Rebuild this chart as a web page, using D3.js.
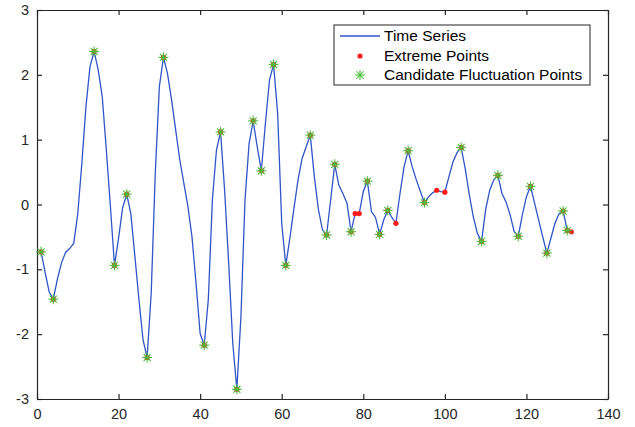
<!DOCTYPE html>
<html>
<head>
<meta charset="utf-8">
<script src="https://cdn.jsdelivr.net/npm/d3@7"></script>
<style>
  html, body { margin: 0; padding: 0; background: #fff; }
  svg { display: block; }
  text { font-family: "Liberation Sans", Arial, sans-serif; }
</style>
</head>
<body>
<div id="chart"></div>
<script>
// ---- data ----
const seriesValues = [
  -0.73, -1.05, -1.35, -1.46, -1.15, -0.90, -0.74, -0.68, -0.60, -0.14,
   0.64,  1.51,  2.13,  2.36,  2.08,  1.66,  0.84, -0.03, -0.94, -0.52,
  -0.05,  0.16, -0.14, -0.80, -1.47, -2.09, -2.36, -1.37,  0.48,  1.82,
   2.27,  2.02,  1.61,  1.15,  0.69,  0.33, -0.03, -0.50, -1.22, -1.99,
  -2.17, -1.47,  0.07,  0.84,  1.12,  0.22, -0.91, -2.14, -2.85, -1.73,
   0.07,  0.94,  1.29,  0.89,  0.52,  1.25,  1.92,  2.16,  1.41, -0.29,
  -0.94, -0.52, -0.06,  0.38,  0.71,  0.89,  1.07,  0.43, -0.08, -0.39,
  -0.47,  0.07,  0.62,  0.30,  0.17,  0.02, -0.42, -0.14, -0.14,  0.20,
   0.36, -0.11, -0.20, -0.46, -0.24, -0.09, -0.20, -0.29,  0.17,  0.58,
   0.83,  0.58,  0.38,  0.20,  0.03,  0.12,  0.18,  0.22,  0.20,  0.19,
   0.43,  0.66,  0.80,  0.88,  0.55,  0.15, -0.20, -0.45, -0.57, -0.08,
   0.22,  0.38,  0.45,  0.17,  0.04, -0.16, -0.42, -0.49, -0.16,  0.12,
   0.28,  0.02, -0.24, -0.50, -0.75, -0.52, -0.29, -0.14, -0.10, -0.40,
  -0.42
];
const seriesTimes = seriesValues.map((_, i) => i + 1);
const candidateTimes = [1, 4, 14, 19, 22, 27, 31, 41, 45, 49, 53, 55, 58, 61, 67, 71, 73, 77,
  81, 84, 86, 91, 95, 104, 109, 113, 118, 121, 125, 129, 130];
const extremeOnlyTimes = [78, 79, 88, 98, 100, 131];
const extremeTimes = candidateTimes.concat(extremeOnlyTimes).sort((a, b) => a - b);
const xTicks = [0, 20, 40, 60, 80, 100, 120, 140];
const yTicks = [-3, -2, -1, 0, 1, 2, 3];
const legendLabels = ["Time Series", "Extreme Points", "Candidate Fluctuation Points"];

// ---- layout ----
const W = 635, H = 427;
const m = { left: 37, right: 27, top: 10, bottom: 28 };
const iw = W - m.left - m.right, ih = H - m.top - m.bottom;

const svg = d3.select("#chart").append("svg").attr("width", W).attr("height", H);
const g = svg.append("g").attr("transform", `translate(${m.left},${m.top})`);

const x = d3.scaleLinear().domain([0, 140]).range([0, iw]);
const y = d3.scaleLinear().domain([-3, 3]).range([ih, 0]);

const axisColor = "#262626";
const tickLen = 5;
const fmt = d => String(d);

// axes with inward ticks
const xb = g.append("g").attr("transform", `translate(0,${ih})`)
  .call(d3.axisBottom(x).tickValues(xTicks).tickFormat(fmt).tickSizeInner(-tickLen).tickSizeOuter(0).tickPadding(10));
const xt = g.append("g")
  .call(d3.axisTop(x).tickValues(xTicks).tickSizeInner(-tickLen).tickSizeOuter(0).tickFormat(""));
const yl = g.append("g")
  .call(d3.axisLeft(y).tickValues(yTicks).tickFormat(fmt).tickSizeInner(-tickLen).tickSizeOuter(0).tickPadding(10));
const yr = g.append("g").attr("transform", `translate(${iw},0)`)
  .call(d3.axisRight(y).tickValues(yTicks).tickSizeInner(-tickLen).tickSizeOuter(0).tickFormat(""));
[xb, xt, yl, yr].forEach(a => {
  a.selectAll("path.domain").attr("stroke", axisColor).attr("stroke-width", 1.2);
  a.selectAll(".tick line").attr("stroke", axisColor).attr("stroke-width", 1.2);
  a.selectAll(".tick text").attr("fill", axisColor).attr("font-size", 14.5)
    .attr("font-family", "Liberation Sans, Arial, sans-serif");
});
yl.selectAll(".tick text").attr("dx", "2");

// series line
const pts = seriesTimes.map((t, i) => [t, seriesValues[i]]);
const valAt = t => seriesValues[t - 1];
g.append("path").datum(pts)
  .attr("fill", "none").attr("stroke", "#2f55c8").attr("stroke-width", 1.3)
  .attr("d", d3.line().x(d => x(d[0])).y(d => y(d[1])));

// extreme points (red dots)
g.selectAll("circle.ext").data(extremeTimes).enter().append("circle")
  .attr("class", "ext")
  .attr("cx", d => x(d)).attr("cy", d => y(valAt(d)))
  .attr("r", 2.6).attr("fill", "#ff1a1a");

// asterisk marker
function asterisk(sel, s) {
  const a = s * 0.7071;
  sel.append("line").attr("x1", -s).attr("x2", s).attr("y1", 0).attr("y2", 0);
  sel.append("line").attr("x1", 0).attr("x2", 0).attr("y1", -s).attr("y2", s);
  sel.append("line").attr("x1", -a).attr("x2", a).attr("y1", -a).attr("y2", a);
  sel.append("line").attr("x1", -a).attr("x2", a).attr("y1", a).attr("y2", -a);
}
const cand = g.selectAll("g.cand").data(candidateTimes).enter().append("g")
  .attr("class", "cand")
  .attr("transform", d => `translate(${x(d)},${y(valAt(d))})`)
  .attr("stroke", "#4cbf3c").attr("stroke-width", 1.1).attr("fill", "none");
cand.each(function () { asterisk(d3.select(this), 5); });

// legend
const lg = svg.append("g").attr("transform", "translate(334,25)");
lg.append("rect").attr("x", 0).attr("y", 0).attr("width", 256).attr("height", 60)
  .attr("fill", "#fff").attr("stroke", axisColor).attr("stroke-width", 1);
const rowY = [11, 31, 50];
lg.append("line").attr("x1", 6).attr("x2", 46).attr("y1", rowY[0]).attr("y2", rowY[0])
  .attr("stroke", "#2f55c8").attr("stroke-width", 1.3);
lg.append("circle").attr("cx", 26).attr("cy", rowY[1]).attr("r", 2.6).attr("fill", "#ff1a1a");
const la = lg.append("g").attr("transform", `translate(26,${rowY[2]})`)
  .attr("stroke", "#4cbf3c").attr("stroke-width", 1.1);
asterisk(la, 5);
lg.selectAll("text.lbl").data(legendLabels).enter().append("text")
  .attr("class", "lbl")
  .attr("x", 50).attr("y", (d, i) => rowY[i]).attr("dy", "0.35em")
  .attr("font-size", 15.5).attr("fill", "#000").text(d => d);
</script>
</body>
</html>
